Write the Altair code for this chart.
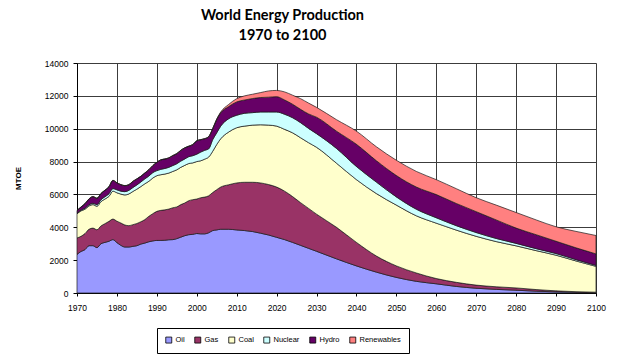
import altair as alt
import pandas as pd

years = list(range(1970, 2007)) + [2008, 2010, 2012, 2014, 2016, 2018, 2020, 2022, 2024,
                                   2026, 2028, 2030, 2035, 2040, 2045, 2050, 2055, 2060,
                                   2065, 2070, 2075, 2080, 2085, 2090, 2095, 2100]

oil = [2350, 2530, 2640, 2880, 2880, 2760, 3000, 3080, 3150, 3250,
       3070, 2900, 2800, 2800, 2840, 2880, 2980, 3040, 3120, 3170,
       3200, 3200, 3210, 3240, 3250, 3310, 3400, 3490, 3550, 3570,
       3620, 3600, 3600, 3670, 3800, 3840, 3880,
       3880, 3840, 3800, 3740, 3640, 3530, 3390, 3250, 3080, 2900, 2720, 2540,
       2080, 1650, 1270, 950, 710, 560, 400, 290, 220, 170, 110, 70, 45, 30]

gas = [1000, 920, 980, 1000, 1070, 1090, 1080, 1140, 1210, 1250,
       1300, 1360, 1340, 1300, 1320, 1350, 1360, 1430, 1550, 1660,
       1770, 1830, 1850, 1870, 1940, 1930, 1980, 1990, 2070, 2110,
       2100, 2200, 2240, 2250, 2320, 2450, 2570,
       2710, 2860, 2940, 3000, 3060, 3070, 3060, 2950, 2790, 2600, 2430, 2260,
       1920, 1430, 980, 700, 510, 320, 250, 190, 160, 140, 100, 60, 35, 20]

coal = [1470, 1550, 1480, 1420, 1430, 1430, 1480, 1500, 1520, 1700,
        1730, 1760, 1830, 1930, 2020, 2090, 2140, 2180, 2130, 2170,
        2170, 2170, 2180, 2190, 2210, 2260, 2270, 2290, 2260, 2240,
        2280, 2250, 2310, 2360, 2510, 2750, 2940,
        3210, 3360, 3420, 3480, 3540, 3620, 3710, 3760, 3880, 3950, 4000, 4070,
        3900, 3820, 3800, 3700, 3480, 3370, 3180, 2970, 2750, 2560, 2370, 2170, 1870, 1570]

nuclear = [40, 50, 60, 70, 80, 100, 120, 140, 160, 160,
           180, 180, 200, 220, 240, 260, 280, 300, 320, 330,
           310, 330, 340, 350, 360, 370, 380, 390, 420, 440,
           450, 530, 540, 500, 710, 710, 770,
           810, 760, 780, 760, 780, 800, 860, 920, 920, 920, 870, 830,
           900, 800, 700, 500, 400, 330, 270, 230, 190, 150, 120, 100, 80, 60]

hydro = [160, 180, 270, 350, 400, 380, 370, 390, 420, 490,
         420, 390, 360, 340, 370, 360, 340, 350, 380, 420,
         500, 570, 570, 570, 600, 610, 650, 670, 630, 670,
         810, 750, 700, 730, 660, 810, 810,
         740, 810, 810, 860, 880, 900, 930, 870, 820, 810, 880, 1000,
         1050, 1350, 1300, 1300, 1350, 1410, 1350, 1270, 1130, 930, 850, 750, 720, 700]

renewables = [10, 10, 10, 10, 10, 10, 10, 10, 10, 10,
              10, 10, 10, 10, 10, 10, 10, 10, 10, 10,
              10, 10, 10, 10, 10, 10, 10, 10, 10, 10,
              10, 10, 10, 20, 20, 30, 50,
              130, 200, 250, 260, 300, 380, 380, 490, 550, 650, 660, 600,
              700, 800, 850, 930, 950, 910, 900, 850, 900, 950, 900, 880, 1000, 1120]

sources = ["Oil", "Gas", "Coal", "Nuclear", "Hydro", "Renewables"]
colors = ["#9999FF", "#993366", "#FFFFCC", "#CCFFFF", "#660066", "#FF8080"]
series = [oil, gas, coal, nuclear, hydro, renewables]

x_ticks = list(range(1970, 2101, 10))
y_ticks = list(range(0, 14001, 2000))

rows = []
for i, (name, vals) in enumerate(zip(sources, series)):
    for yr, v in zip(years, vals):
        rows.append({"year": yr, "source": name, "value": v, "order": i})
df = pd.DataFrame(rows)

chart = alt.Chart(df).mark_area(
    stroke="#1a1a1a", strokeWidth=0.7, interpolate="monotone"
).encode(
    x=alt.X("year:Q",
            scale=alt.Scale(domain=[1970, 2100], nice=False, zero=False),
            axis=alt.Axis(values=x_ticks, format="d", title=None,
                          labelFont="Liberation Sans", labelFontSize=8.5, labelColor="black",
                          tickSize=3, labelPadding=7, tickColor="black",
                          domainColor="black", gridColor="#3c3c3c", gridWidth=1,
                          labelFlush=False)),
    y=alt.Y("value:Q", stack="zero",
            scale=alt.Scale(domain=[0, 14000], nice=False),
            axis=alt.Axis(values=y_ticks, format="d", title="MTOE",
                          titleFont="Liberation Sans", titleFontSize=8, titleFontWeight="bold",
                          titleColor="black", titleX=-55, titleY=115, titleAngle=-90,
                          labelFont="Liberation Sans", labelFontSize=8.5, labelColor="black",
                          tickSize=4, labelPadding=5, tickColor="black",
                          domainColor="black", gridColor="#3c3c3c", gridWidth=1)),
    color=alt.Color("source:N",
                    scale=alt.Scale(domain=sources, range=colors),
                    legend=alt.Legend(title=None, orient="none", legendX=80, legendY=265,
                                      direction="horizontal", symbolType="square",
                                      symbolSize=36, symbolStrokeColor="black",
                                      symbolStrokeWidth=0.8, labelFont="Liberation Sans",
                                      labelFontSize=7.5, labelColor="black", labelOffset=3,
                                      columnPadding=8, padding=8, strokeColor="black",
                                      fillColor="white")),
    order=alt.Order("order:Q"),
).properties(
    width=519,
    height=230,
    autosize=alt.AutoSizeParams(type="none"),
    padding={"left": 77, "top": 63, "right": 21, "bottom": 61},
    title=alt.TitleParams(text=["World Energy Production", "1970 to 2100"],
                          font="Lato", fontSize=14.5, fontWeight="bold", color="black",
                          lineHeight=20, anchor="middle", frame="group", dx=-54, offset=16),
).configure_view(strokeWidth=0).configure(background="white")

chart.save("out.html", embed_options={"renderer": "svg", "actions": False})
